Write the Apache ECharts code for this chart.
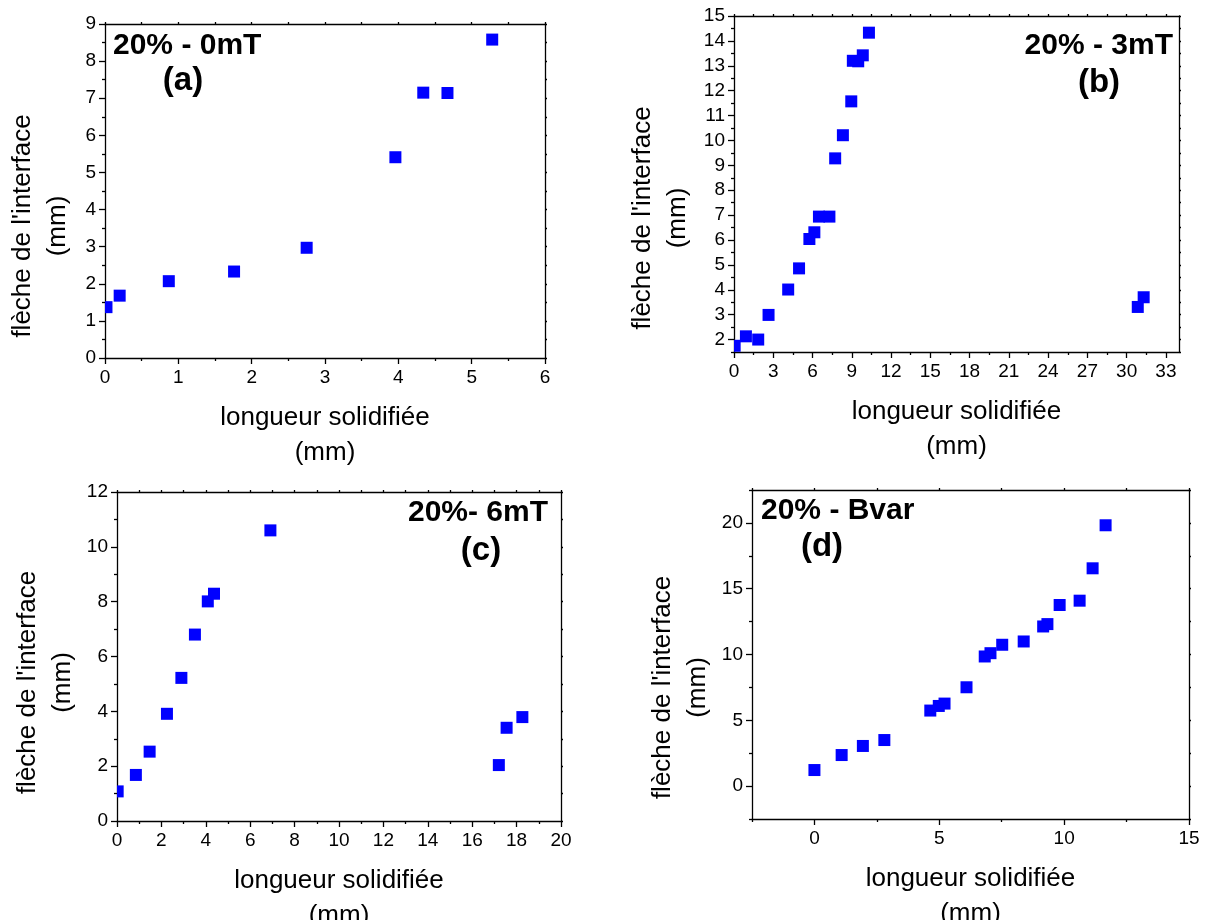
<!DOCTYPE html>
<html>
<head>
<meta charset="utf-8">
<script src="https://cdn.jsdelivr.net/npm/echarts@6/dist/echarts.min.js"></script>
<style>html,body{margin:0;padding:0;background:#fff}#c{width:1209px;height:920px}</style>
</head>
<body>
<div id="c"></div>
<script>
// ---- data ----
const aX = [0.02, 0.20, 0.87, 1.76, 2.75, 3.96, 4.34, 4.67, 5.28];
const aY = [1.37, 1.68, 2.07, 2.33, 2.97, 5.41, 7.15, 7.14, 8.58];
const aXTicks = [0, 1, 2, 3, 4, 5, 6];
const aXMinor = [0.5, 1.5, 2.5, 3.5, 4.5, 5.5];
const aYTicks = [0, 1, 2, 3, 4, 5, 6, 7, 8, 9];
const aYMinor = [0.5, 1.5, 2.5, 3.5, 4.5, 5.5, 6.5, 7.5, 8.5];

const bX = [0.05, 0.91, 1.85, 2.64, 4.14, 4.97, 5.76, 6.14, 6.49, 7.29, 7.73, 8.32, 8.96, 9.08, 9.49, 9.84, 10.31, 30.85, 31.30];
const bY = [1.75, 2.13, 2.00, 2.99, 4.01, 4.86, 6.04, 6.31, 6.94, 6.94, 9.28, 10.21, 11.57, 13.20, 13.18, 13.42, 14.33, 3.31, 3.70];
const bXTicks = [0, 3, 6, 9, 12, 15, 18, 21, 24, 27, 30, 33];
const bXMinor = [1.5, 4.5, 7.5, 10.5, 13.5, 16.5, 19.5, 22.5, 25.5, 28.5, 31.5];
const bYTicks = [2, 3, 4, 5, 6, 7, 8, 9, 10, 11, 12, 13, 14, 15];
const bYMinor = [1.5, 2.5, 3.5, 4.5, 5.5, 6.5, 7.5, 8.5, 9.5, 10.5, 11.5, 12.5, 13.5, 14.5];

const cX = [0.03, 0.85, 1.47, 2.25, 2.90, 3.51, 4.09, 4.37, 6.91, 17.20, 17.55, 18.26];
const cY = [1.08, 1.68, 2.53, 3.91, 5.22, 6.80, 8.01, 8.29, 10.60, 2.04, 3.40, 3.79];
const cXTicks = [0, 2, 4, 6, 8, 10, 12, 14, 16, 18, 20];
const cXMinor = [1, 3, 5, 7, 9, 11, 13, 15, 17, 19];
const cYTicks = [0, 2, 4, 6, 8, 10, 12];
const cYMinor = [1, 3, 5, 7, 9, 11];

const dX = [0.00, 1.09, 1.94, 2.80, 4.64, 4.98, 5.21, 6.09, 6.82, 7.05, 7.52, 8.38, 9.16, 9.33, 9.82, 10.62, 11.14, 11.66];
const dY = [1.22, 2.36, 3.05, 3.50, 5.74, 6.09, 6.27, 7.51, 9.85, 10.10, 10.74, 10.99, 12.13, 12.31, 13.76, 14.09, 16.55, 19.82];
const dXTicks = [0, 5, 10, 15];
const dXMinor = [-2.5, 2.5, 7.5, 12.5];
const dYTicks = [0, 5, 10, 15, 20];
const dYMinor = [-2.5, 2.5, 7.5, 12.5, 17.5, 22.5];

const xTitle = 'longueur solidifiée\n(mm)';
const yTitle = "flèche de l'interface\n(mm)";
const panelTitles = ['20% - 0mT', '20% - 3mT', '20%- 6mT', '20% - Bvar'];
const panelLetters = ['(a)', '(b)', '(c)', '(d)'];

// ---- layout / style ----
const FONT = '"Liberation Sans", Arial, sans-serif';
const BLUE = '#0000ff';
const MARK = 12;
const panels = [
  {grid: {left: 105, top: 24, width: 440, height: 334}, x: aX, y: aY, xr: [0, 6], yr: [0, 9],
   xt: aXTicks, xm: aXMinor, yt: aYTicks, ym: aYMinor, xGap: 42, yGap: 30, yShift: 35},
  {grid: {left: 734, top: 16, width: 445, height: 336}, x: bX, y: bY, xr: [0, 34], yr: [1.5, 15],
   xt: bXTicks, xm: bXMinor, yt: bYTicks, ym: bYMinor, xGap: 42, yGap: 39, yShift: 34},
  {grid: {left: 117, top: 492, width: 444, height: 329}, x: cX, y: cY, xr: [0, 20], yr: [0, 12],
   xt: cXTicks, xm: cXMinor, yt: cYTicks, ym: cYMinor, xGap: 42, yGap: 37, yShift: 26},
  {grid: {left: 752, top: 490, width: 437, height: 329}, x: dX, y: dY, xr: [-2.5, 15], yr: [-2.5, 22.5],
   xt: dXTicks, xm: dXMinor, yt: dYTicks, ym: dYMinor, xGap: 42, yGap: 37, yShift: 33}
];

const lineSt = {color: '#000', width: 1.3};
const labelSt = {fontSize: 19, color: '#000', fontFamily: FONT};
const nameSt = {fontSize: 26, color: '#000', fontFamily: FONT, lineHeight: 35};

const grids = [], xAxes = [], yAxes = [], series = [];
panels.forEach((p, i) => {
  grids.push(Object.assign({outerBoundsMode: 'none', containLabel: false}, p.grid));
  const base = (r) => ({type: 'value', gridIndex: i, min: r[0], max: r[1], splitLine: {show: false}, silent: true});
  xAxes.push(Object.assign(base(p.xr), {
    position: 'bottom',
    axisLine: {show: true, onZero: false, lineStyle: lineSt},
    axisTick: {show: true, customValues: p.xt, length: 6, lineStyle: lineSt},
    axisLabel: {show: true, customValues: p.xt, margin: 10, ...labelSt},
    name: xTitle, nameLocation: 'middle', nameGap: p.xGap, nameTextStyle: nameSt
  }));
  xAxes.push(Object.assign(base(p.xr), {
    position: 'bottom',
    axisLine: {show: false, onZero: false},
    axisTick: {show: true, customValues: p.xm, length: 3, lineStyle: lineSt},
    axisLabel: {show: false}
  }));
  xAxes.push(Object.assign(base(p.xr), {
    position: 'top',
    axisLine: {show: true, onZero: false, lineStyle: lineSt},
    axisTick: {show: true, customValues: p.xt.concat(p.xm), length: 2, lineStyle: lineSt},
    axisLabel: {show: false}
  }));
  yAxes.push(Object.assign(base(p.yr), {
    position: 'left',
    axisLine: {show: true, onZero: false, lineStyle: lineSt},
    axisTick: {show: true, customValues: p.yt, length: 6, lineStyle: lineSt},
    axisLabel: {show: true, customValues: p.yt, margin: 9, ...labelSt},
    name: yTitle, nameLocation: 'middle', nameGap: p.yGap, nameRotate: 90,
    nameTextStyle: Object.assign({}, nameSt, {padding: [0, 2 * p.yShift, 0, 0]})
  }));
  yAxes.push(Object.assign(base(p.yr), {
    position: 'left',
    axisLine: {show: false, onZero: false},
    axisTick: {show: true, customValues: p.ym, length: 3, lineStyle: lineSt},
    axisLabel: {show: false}
  }));
  yAxes.push(Object.assign(base(p.yr), {
    position: 'right',
    axisLine: {show: true, onZero: false, lineStyle: lineSt},
    axisTick: {show: true, customValues: p.yt.concat(p.ym), length: 2, lineStyle: lineSt},
    axisLabel: {show: false}
  }));
  series.push({
    type: 'custom', coordinateSystem: 'cartesian2d', xAxisIndex: 3 * i, yAxisIndex: 3 * i,
    clip: true, encode: {x: 0, y: 1},
    data: p.x.map((v, k) => [v, p.y[k]]),
    renderItem: function (params, api) {
      const c = api.coord([api.value(0), api.value(1)]);
      return {type: 'rect', shape: {x: c[0] - MARK / 2, y: c[1] - MARK / 2, width: MARK, height: MARK},
              style: {fill: BLUE}};
    }
  });
});

const titleFont = 'bold 30px ' + FONT;
const letterFont = 'bold 33px ' + FONT;
const titlePos = [
  {x: 113, y: 46, align: 'left'},
  {x: 1173, y: 46, align: 'right'},
  {x: 548, y: 513, align: 'right'},
  {x: 761, y: 511, align: 'left'}
];
const letterPos = [[183, 81], [1099, 83], [481, 551], [822, 547]];
const graphics = [];
panelTitles.forEach((t, i) => {
  graphics.push({type: 'text', x: titlePos[i].x, y: titlePos[i].y, silent: true,
    style: {text: t, font: titleFont, fill: '#000', align: titlePos[i].align, verticalAlign: 'middle'}});
  graphics.push({type: 'text', x: letterPos[i][0], y: letterPos[i][1], silent: true,
    style: {text: panelLetters[i], font: letterFont, fill: '#000', align: 'center', verticalAlign: 'middle'}});
});

const chart = echarts.init(document.getElementById('c'), null, {renderer: 'canvas'});
chart.setOption({
  animation: false,
  backgroundColor: '#fff',
  grid: grids, xAxis: xAxes, yAxis: yAxes, series: series, graphic: graphics
});
</script>
</body>
</html>
